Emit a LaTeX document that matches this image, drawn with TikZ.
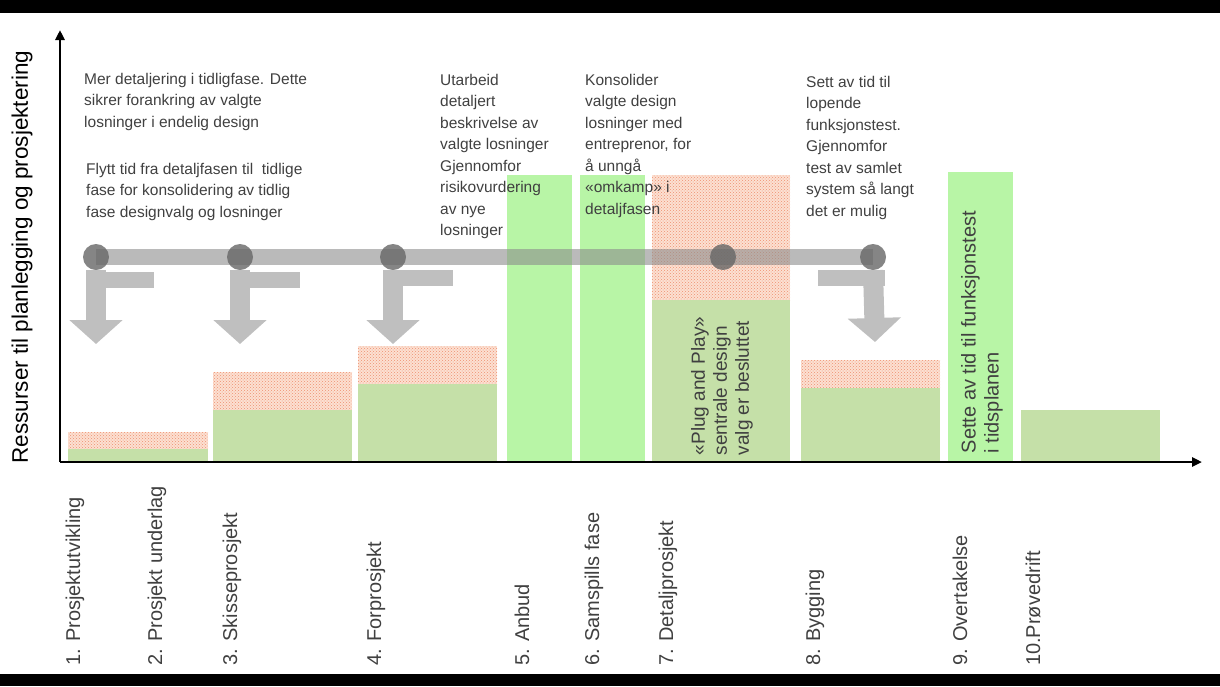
\documentclass[tikz,border=0pt]{standalone}
\usepackage{fontspec}
\setmainfont{Liberation Sans}
\usetikzlibrary{patterns,arrows.meta}
\definecolor{gr}{HTML}{C5E0A8}
\definecolor{bg}{HTML}{B8F5A6}
\definecolor{pk}{HTML}{FCE0D2}
\definecolor{ht}{HTML}{EE9070}
\definecolor{tx}{HTML}{404040}
\begin{document}
\begin{tikzpicture}[x=1pt,y=-1pt,
  bar/.style={fill=gr,draw=none},
  bbar/.style={fill=bg,draw=none},
  hatch/.style={fill=pk,postaction={pattern=crosshatch dots,pattern color=ht}},
  txt/.style={text=tx,font=\fontsize{15.5}{21.5}\selectfont,align=left,anchor=north west,inner sep=0},
  lab/.style={text=tx,font=\fontsize{20}{22}\selectfont,rotate=90,anchor=west,inner sep=0},
  dot/.style={circle,fill=black!60,minimum size=26pt,inner sep=0},
  arr/.style={draw=black!25,line width=20pt,-{Triangle[width=52pt,length=24pt]}},
  hb/.style={draw=black!25,line width=16pt}]
\useasboundingbox (0,0) rectangle (1220,686);
\fill[black] (0,0) rectangle (1220,13);
\fill[black] (0,674) rectangle (1220,686);
% bars
\fill[hatch] (68,432) rectangle (208,449); \fill[bar] (68,449) rectangle (208,462);
\fill[hatch] (213,372) rectangle (352,410); \fill[bar] (213,410) rectangle (352,462);
\fill[hatch] (358,346) rectangle (497,384); \fill[bar] (358,384) rectangle (497,462);
\fill[bbar] (507,175) rectangle (572,462);
\fill[bbar] (580,175) rectangle (645,462);
\fill[hatch] (652,175) rectangle (790,300); \fill[bar] (652,300) rectangle (790,462);
\fill[hatch] (801,360) rectangle (940,388); \fill[bar] (801,388) rectangle (940,462);
\fill[bbar] (948,172) rectangle (1013,462);
\fill[bar] (1021,410) rectangle (1160,462);
% gray timeline
\draw[draw=black!45,opacity=0.6,line width=16pt] (96,257) -- (873,257);
\node[dot,opacity=0.8] (d1) at (96,257) {};
\node[dot,opacity=0.8] (d2) at (240,257) {};
\node[dot,opacity=0.8] (d3) at (393,257) {};
\node[dot,opacity=0.8] (d4) at (723,257) {};
\node[dot,opacity=0.8] (d5) at (873,257) {};
\coordinate (e1) at (96,344); \coordinate (e2) at (240,344); \coordinate (e3) at (393,344); \coordinate (e5) at (875,342);
\draw[hb] (86,280) -- (154,280); \draw[arr] (d1.south) -- (e1);
\draw[hb] (230,280) -- (300,280); \draw[arr] (d2.south) -- (e2);
\draw[hb] (383,278) -- (453,278); \draw[arr] (d3.south) -- (e3);
\draw[hb] (818,278) -- (885,278); \draw[arr] (d5.south) -- (e5);
% axes
\coordinate (o) at (60,462); \coordinate (ytop) at (60,30); \coordinate (xend) at (1202,462);
\draw[line width=2.5pt,-{Triangle[width=9pt,length=10pt]}] (o) -- (ytop);
\draw[line width=2.5pt,-{Triangle[width=9pt,length=10pt]}] (o) -- (xend);
\node[rotate=90,font=\fontsize{22.5}{24}\selectfont,text=black] (yl) at (22,257) {Ressurser til planlegging og prosjektering};
% texts
\node[txt] (t1) at (84,73) {Mer detaljering i tidligfase. Dette\\sikrer forankring av valgte\\losninger i endelig design};
\node[txt] (t2) at (86,163) {Flytt tid fra detaljfasen til\ \ tidlige\\fase for konsolidering av tidlig\\fase designvalg og losninger};
\node[txt] (t3) at (440,74) {Utarbeid\\detaljert\\beskrivelse av\\valgte losninger\\Gjennomfor\\risikovurdering\\av nye\\losninger};
\node[txt] (t4) at (585,74) {Konsolider\\valgte design\\losninger med\\entreprenor, for\\å unngå\\«omkamp» i\\detaljfasen};
\node[txt] (t5) at (806,76) {Sett av tid til\\lopende\\funksjonstest.\\Gjennomfor\\test av samlet\\system så langt\\det er mulig};
\node[rotate=90,text=tx,font=\fontsize{19}{22}\selectfont,align=left] (p) at (722,386) {«Plug and Play»\\sentrale design\\valg er besluttet};
\node[rotate=90,text=tx,font=\fontsize{20}{23}\selectfont,align=left] (s) at (982,332) {Sette av tid til funksjonstest\\i tidsplanen};
% phase labels
\node[lab] (l1) at (75,666) {1. Prosjektutvikling};
\node[lab] (l2) at (157,666) {2. Prosjekt underlag};
\node[lab] (l3) at (232,666) {3. Skisseprosjekt};
\node[lab] (l4) at (376,666) {4. Forprosjekt};
\node[lab] (l5) at (522,666) {5. Anbud};
\node[lab] (l6) at (594,666) {6. Samspills fase};
\node[lab] (l7) at (668,666) {7. Detaljprosjekt};
\node[lab] (l8) at (815,666) {8. Bygging};
\node[lab] (l9) at (960,666) {9. Overtakelse};
\node[lab] (l10) at (1033,666) {10.Prøvedrift};
\end{tikzpicture}
\end{document}
